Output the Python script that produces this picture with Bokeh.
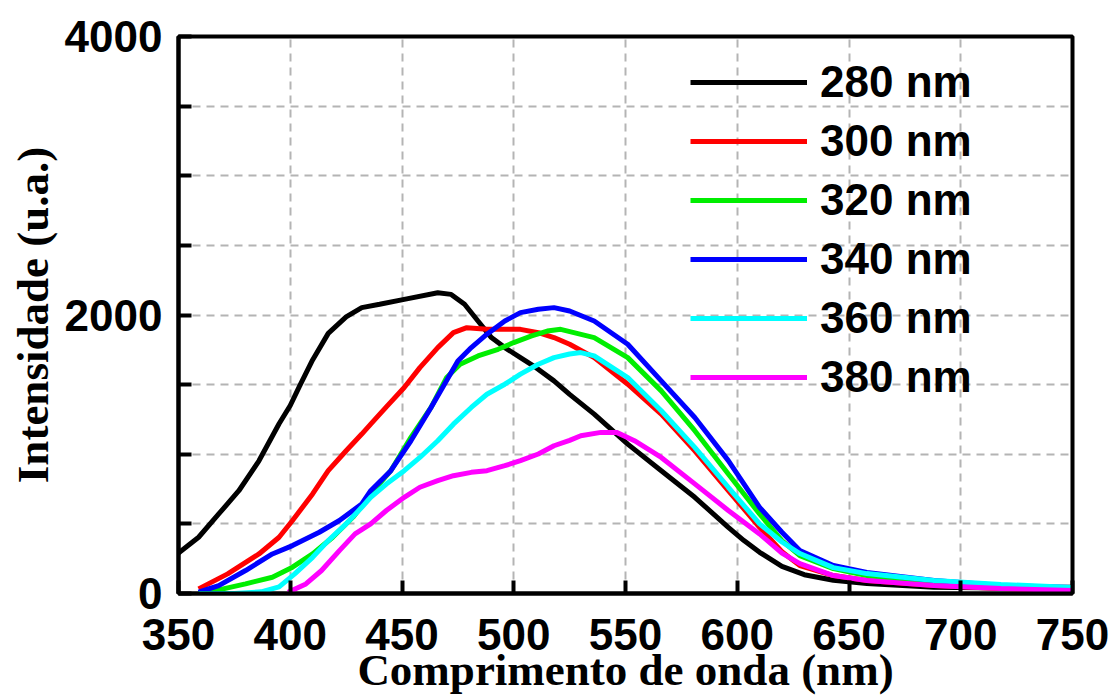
from bokeh.plotting import figure
from bokeh.models import Range1d, FixedTicker, Legend, LegendItem
from bokeh.embed import file_html
from bokeh.resources import INLINE

# ---- data ----
x_280 = [350, 359, 368, 377, 386, 395, 400, 404, 410, 417, 425, 432, 440, 451, 466, 472, 478, 484, 490, 496, 503, 510, 518, 525, 536, 551, 566, 581, 596, 603, 610, 620, 630, 643, 658, 688, 718, 750]
y_280 = [290, 404, 571, 738, 953, 1219, 1350, 1484, 1677, 1868, 1986, 2053, 2077, 2112, 2160, 2148, 2077, 1957, 1838, 1766, 1694, 1622, 1527, 1430, 1288, 1073, 882, 691, 475, 380, 296, 195, 135, 95, 72, 45, 40, 45]

x_300 = [359, 372, 386, 395, 401, 410, 417, 425, 432, 436, 443, 451, 458, 466, 473, 479, 488, 496, 503, 511, 518, 525, 536, 551, 566, 581, 596, 610, 620, 628, 643, 658, 688, 718, 750]
y_300 = [33, 141, 284, 404, 524, 715, 882, 1025, 1145, 1216, 1340, 1479, 1622, 1766, 1873, 1909, 1897, 1897, 1897, 1873, 1838, 1790, 1694, 1503, 1288, 1025, 739, 475, 300, 200, 129, 93, 57, 36, 22]

x_320 = [359, 365, 380, 392, 401, 410, 419, 428, 434, 436, 445, 454, 463, 470, 476, 484, 493, 500, 508, 515, 521, 536, 551, 566, 581, 596, 610, 620, 628, 643, 658, 688, 718, 750]
y_320 = [5, 15, 69, 117, 189, 284, 404, 547, 667, 715, 882, 1121, 1336, 1551, 1646, 1706, 1754, 1802, 1850, 1885, 1897, 1838, 1694, 1455, 1169, 858, 571, 380, 272, 179, 129, 79, 57, 36]

x_340 = [359, 368, 380, 392, 401, 413, 422, 432, 436, 445, 454, 463, 469, 475, 481, 488, 496, 503, 511, 518, 525, 536, 551, 566, 581, 596, 610, 620, 628, 643, 658, 688, 718, 750]
y_340 = [9, 57, 165, 284, 344, 440, 524, 643, 738, 882, 1097, 1336, 1503, 1670, 1766, 1862, 1957, 2017, 2041, 2053, 2029, 1957, 1790, 1527, 1264, 954, 619, 440, 308, 201, 151, 93, 57, 43]

x_360 = [359, 375, 387, 395, 402, 410, 417, 425, 432, 436, 443, 451, 458, 466, 473, 481, 488, 496, 503, 511, 518, 525, 530, 536, 551, 566, 581, 596, 610, 620, 628, 643, 658, 688, 718, 750]
y_360 = [0, 0, 12, 48, 141, 260, 380, 500, 619, 691, 786, 882, 977, 1097, 1216, 1336, 1431, 1503, 1575, 1646, 1694, 1720, 1730, 1706, 1551, 1312, 1049, 763, 500, 370, 287, 186, 143, 93, 65, 43]

x_380 = [399, 407, 414, 422, 429, 436, 443, 451, 458, 466, 473, 481, 488, 496, 503, 511, 518, 525, 530, 539, 546, 554, 566, 581, 596, 610, 620, 628, 643, 658, 688, 718, 750]
y_380 = [9, 69, 165, 308, 428, 500, 596, 691, 763, 810, 846, 870, 882, 918, 954, 1002, 1061, 1100, 1133, 1157, 1157, 1097, 977, 787, 596, 428, 290, 215, 129, 93, 57, 36, 22]

series_labels = ["280 nm", "300 nm", "320 nm", "340 nm", "360 nm", "380 nm"]
series_colors = ["#000000", "#ff0000", "#00ee00", "#0000ff", "#00ffff", "#ff00ff"]
x_ticks = [350, 400, 450, 500, 550, 600, 650, 700, 750]
y_ticks = [0, 500, 1000, 1500, 2000, 2500, 3000, 3500, 4000]
y_tick_labels = {0: "0", 2000: "2000", 4000: "4000"}

xs = [x_280, x_300, x_320, x_340, x_360, x_380]
ys = [y_280, y_300, y_320, y_340, y_360, y_380]

p = figure(width=1112, height=700, output_backend="svg", toolbar_location=None,
           x_range=Range1d(350, 750), y_range=Range1d(0, 4000),
           min_border_left=178, min_border_right=40, min_border_top=36, min_border_bottom=107)
p.background_fill_color = "white"
p.border_fill_color = "white"
p.outline_line_color = "black"
p.outline_line_width = 4

# grids
for g in (p.xgrid, p.ygrid):
    g.grid_line_color = "#b4b4b4"
    g.grid_line_width = 2
    g.grid_line_dash = "8 6"

p.xaxis.ticker = FixedTicker(ticks=x_ticks)
p.yaxis.ticker = FixedTicker(ticks=y_ticks)
p.xgrid.ticker = FixedTicker(ticks=x_ticks)
p.ygrid.ticker = FixedTicker(ticks=y_ticks)
p.yaxis.major_label_overrides = {t: y_tick_labels.get(t, "") for t in y_ticks}

for ax in (p.xaxis, p.yaxis):
    ax.axis_line_color = "black"
    ax.axis_line_width = 4
    ax.major_tick_in = 13
    ax.major_tick_out = 0
    ax.major_tick_line_width = 4
    ax.major_tick_line_color = "black"
    ax.minor_tick_line_color = None
    ax.major_label_text_font = "Liberation Sans"
    ax.major_label_text_font_style = "bold"
    ax.major_label_text_font_size = "44px"
    ax.major_label_text_color = "black"
    ax.axis_label_text_font = "Liberation Serif"
    ax.axis_label_text_font_style = "bold"
    ax.axis_label_text_font_size = "45px"
    ax.axis_label_text_color = "black"

p.xaxis.axis_label = "Comprimento de onda (nm)"
p.yaxis.axis_label = "Intensidade (u.a.)"
p.xaxis.major_label_standoff = 25
p.xaxis.axis_label_standoff = -8
p.yaxis.major_label_standoff = 16
p.yaxis.axis_label_standoff = 4

items = []
for x, y, lab, col in zip(xs, ys, series_labels, series_colors):
    r = p.line(x, y, line_color=col, line_width=5)
    items.append(LegendItem(label=lab, renderers=[r]))

legend = Legend(items=items, location=(512, 191))
legend.background_fill_alpha = 0
legend.border_line_color = None
legend.padding = 0
legend.margin = 0
legend.spacing = 9
legend.glyph_width = 117
legend.glyph_height = 44
legend.label_height = 44
legend.label_standoff = 13
legend.label_text_font = "Liberation Sans"
legend.label_text_font_style = "bold"
legend.label_text_font_size = "44px"
legend.label_text_color = "black"
p.add_layout(legend, "center")

open("out.html", "w").write(file_html(p, INLINE))
